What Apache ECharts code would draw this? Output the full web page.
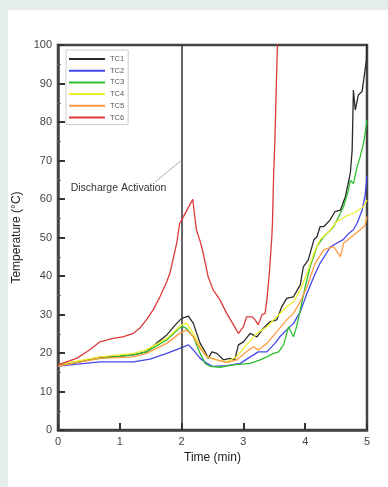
<!DOCTYPE html>
<html><head><meta charset="utf-8">
<script src="https://cdn.jsdelivr.net/npm/echarts@6/dist/echarts.min.js"></script>
<style>html,body{margin:0;padding:0;background:#e4ecec;}#c{width:388px;height:487px;}</style>
</head><body><div id="c"></div>
<script>
var seriesNames = ['TC1','TC2','TC3','TC4','TC5','TC6'];
var xTicks = [0,1,2,3,4,5];
var yTicks = [0,10,20,30,40,50,60,70,80,90,100];
var activationTime = 2;
var tc1 = [[0,17],[0.3,17.5],[0.68,18.9],[1.0,19.2],[1.22,19.5],[1.43,20.3],[1.59,22.5],[1.76,24.7],[1.92,27.7],[2.0,29],[2.06,29.3],[2.11,29.6],[2.19,27.7],[2.3,22.5],[2.38,20.3],[2.43,18.6],[2.49,20.3],[2.57,19.9],[2.68,18.2],[2.78,18.6],[2.86,18.2],[2.92,22.1],[3.0,22.9],[3.11,25.1],[3.22,24.2],[3.32,26.4],[3.43,28.1],[3.54,28.6],[3.62,32],[3.7,34.2],[3.81,34.6],[3.92,37.7],[3.97,42.4],[4.05,44.2],[4.14,49.4],[4.19,50.2],[4.24,52.8],[4.3,52.8],[4.4,54.5],[4.48,56.7],[4.57,57.1],[4.65,60.6],[4.73,66.7],[4.76,72.7],[4.78,88.3],[4.81,83.1],[4.86,87],[4.92,87.9],[4.95,87.5],[4.99,96],[5.0,105]];
var tc2 = [[0,16.6],[0.68,17.7],[1.22,17.7],[1.49,18.4],[1.76,19.9],[1.97,21.2],[2.11,22.1],[2.19,20.8],[2.3,18.6],[2.41,17.3],[2.51,16.5],[2.73,16.7],[2.95,17.3],[3.11,19],[3.24,20.3],[3.38,20.3],[3.51,22.5],[3.59,24.2],[3.7,26],[3.81,27.7],[3.92,30.7],[4.03,35.5],[4.14,39.8],[4.24,43.3],[4.41,47.6],[4.62,49.5],[4.7,51],[4.78,52],[4.84,53.7],[4.92,57],[4.97,61],[5.0,66]];
var tc3 = [[0,17],[0.68,18.6],[1.22,19.5],[1.43,20.3],[1.76,23.4],[2.0,27],[2.08,26.4],[2.19,24.2],[2.3,19.9],[2.38,17.3],[2.46,16.5],[2.62,16.3],[2.84,16.9],[3.11,17.3],[3.27,18.2],[3.38,19],[3.49,19.9],[3.57,20.3],[3.65,22.1],[3.73,26.8],[3.81,24.2],[3.86,26.8],[3.92,31.2],[4.0,37.2],[4.08,42.4],[4.19,47.6],[4.3,50.2],[4.46,52.8],[4.62,58],[4.7,62.3],[4.73,64.9],[4.78,64],[4.84,68.4],[4.89,71],[4.95,75],[5.0,80.5]];
var tc4 = [[0,17],[0.68,19],[1.22,19.9],[1.43,20.8],[1.76,23.8],[2.0,27.3],[2.08,27.7],[2.19,25.1],[2.3,21.6],[2.41,19],[2.57,18.2],[2.73,17.7],[2.89,19],[3.05,22.1],[3.22,25.1],[3.38,26.8],[3.54,29.4],[3.7,32],[3.81,33.3],[3.92,36.4],[4.03,40.7],[4.14,45.9],[4.24,49.4],[4.41,52],[4.51,54.2],[4.65,55.4],[4.78,56.3],[4.94,58],[5.0,59.7]];
var tc5 = [[0,16.6],[0.68,18.6],[1.22,19],[1.43,19.9],[1.76,22.5],[1.97,25.1],[2.08,26],[2.19,24.2],[2.3,21.2],[2.41,19],[2.57,18.2],[2.73,17.5],[2.89,18.2],[3.05,20.3],[3.16,21.6],[3.24,20.8],[3.38,22.5],[3.54,25.5],[3.7,28.6],[3.81,30.3],[3.92,33.3],[4.03,37.2],[4.16,43.3],[4.3,46.8],[4.46,47.6],[4.57,45],[4.62,48.5],[4.78,50.6],[4.89,52],[4.97,53.2],[5.0,55.4]];
var tc6 = [[0,16.9],[0.3,18.6],[0.51,20.8],[0.68,22.9],[0.89,23.8],[1.05,24.2],[1.22,25.1],[1.32,26.4],[1.43,28.6],[1.54,31.2],[1.65,34.6],[1.76,38.5],[1.81,40.7],[1.86,44.2],[1.92,48.5],[1.97,53.7],[2.0,54.5],[2.18,59.9],[2.24,52],[2.3,49],[2.35,45.9],[2.43,39.8],[2.51,36.4],[2.62,33.8],[2.73,30.3],[2.84,27.3],[2.92,25.1],[2.95,25],[3.0,26.8],[3.05,29.4],[3.14,29.4],[3.19,28.6],[3.24,27.3],[3.3,29.9],[3.35,30.3],[3.38,33.8],[3.42,40.7],[3.46,50.2],[3.47,53.7],[3.49,66.7],[3.51,75.3],[3.53,88],[3.55,99.6],[3.56,110]];
var colors = ['#2a2a2a','#4646ee','#2fbf2f','#eeee30','#ff9a40','#dd3a3a'];
var allData = [tc1,tc2,tc3,tc4,tc5,tc6];

var chart = echarts.init(document.getElementById('c'));
var FONT = 'Liberation Sans';
var series = seriesNames.map(function(n,i){
  return {name:n,type:'line',data:allData[i],showSymbol:false,symbol:'none',clip:true,
    lineStyle:{color:colors[i],width:1.3},itemStyle:{color:colors[i]},z:3+i,animation:false};
});
series[0].markLine = {silent:true,symbol:'none',animation:false,
  data:[[{coord:[activationTime,0]},{coord:[activationTime,100]}]],
  lineStyle:{color:'#333',width:1.5,type:'solid'},label:{show:false}};
series[1].markLine = {silent:true,symbol:'none',animation:false,
  data:[[{coord:[1.57,64.4]},{coord:[activationTime,70.1]}]],
  lineStyle:{color:'#999',width:0.8,type:'solid'},label:{show:false}};
series[1].markPoint = {silent:true,symbol:'circle',symbolSize:0,animation:false,
  data:[{coord:[0.98,62.7],value:'Discharge Activation'}],
  label:{show:true,position:'inside',formatter:'Discharge Activation',color:'#333',fontFamily:FONT,fontSize:10.5}};

chart.setOption({
  backgroundColor:'#e4ecec',
  animation:false,
  graphic:[{type:'rect',left:8,top:10,shape:{width:380,height:477},style:{fill:'#ffffff'},z:-10}],
  grid:{left:58,right:21,top:45,bottom:57,show:true,borderColor:'#444',borderWidth:2.5,backgroundColor:'transparent'},
  legend:{data:seriesNames,orient:'vertical',left:66,top:50,itemWidth:36,itemHeight:8,itemGap:3.7,
    padding:[5,4,3,2],borderColor:'#ccc',borderWidth:1,backgroundColor:'#fff',
    itemStyle:{opacity:0},
    textStyle:{fontSize:7.5,color:'#555',fontFamily:FONT,lineHeight:8}},
  xAxis:{type:'value',min:0,max:5,interval:1,
    name:'Time (min)',nameLocation:'middle',nameGap:22,
    nameTextStyle:{fontSize:12,color:'#222',fontFamily:FONT},
    axisLine:{show:true,lineStyle:{color:'#444',width:2.5}},
    axisTick:{show:true,inside:true,length:7,lineStyle:{color:'#333',width:2}},
    axisLabel:{fontSize:11,color:'#444',fontFamily:FONT,margin:6},
    splitLine:{show:false}},
  yAxis:{type:'value',min:0,max:100,interval:10,
    name:'Temperature (°C)',nameLocation:'middle',nameGap:24,
    nameTextStyle:{fontSize:12,color:'#222',fontFamily:FONT},
    axisLine:{show:true,lineStyle:{color:'#444',width:2.5}},
    axisTick:{show:true,inside:true,length:7,lineStyle:{color:'#333',width:2}},
    minorTick:{show:true,splitNumber:2,length:3,lineStyle:{color:'#666',width:1}},
    axisLabel:{fontSize:11,color:'#444',fontFamily:FONT,margin:6},
    splitLine:{show:false}},
  series:series
});
</script></body></html>
